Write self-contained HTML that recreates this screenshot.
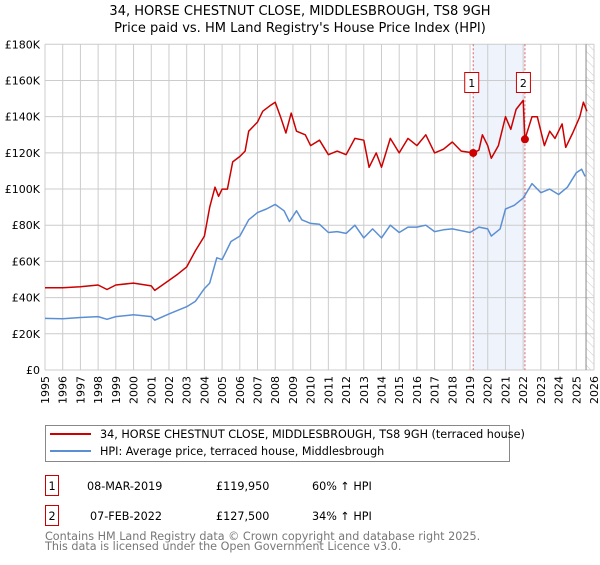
<!DOCTYPE html>
<html><head><meta charset="utf-8"><style>
body{margin:0;background:#fff;font-family:"Liberation Sans","DejaVu Sans",sans-serif;}
</style></head><body>
<svg width="600" height="560" xmlns="http://www.w3.org/2000/svg" font-family="DejaVu Sans, Liberation Sans, sans-serif">
<text x="300" y="15" text-anchor="middle" font-size="13">34, HORSE CHESTNUT CLOSE, MIDDLESBROUGH, TS8 9GH</text>
<text x="300" y="32" text-anchor="middle" font-size="13">Price paid vs. HM Land Registry's House Price Index (HPI)</text>
<defs><pattern id="hatch" width="6" height="6" patternUnits="userSpaceOnUse" patternTransform="rotate(-45)"><line x1="0" y1="0" x2="0" y2="6" stroke="#ccc" stroke-width="1"/></pattern></defs>
<g id="plot"></g>
<g id="legend">
<rect x="45.5" y="425.5" width="464" height="36" fill="#fff" stroke="#888"/>
<line x1="50" y1="434" x2="91" y2="434" stroke="#cc0000" stroke-width="2"/>
<text x="100" y="438" font-size="11.2">34, HORSE CHESTNUT CLOSE, MIDDLESBROUGH, TS8 9GH (terraced house)</text>
<line x1="50" y1="451" x2="91" y2="451" stroke="#5b8fd4" stroke-width="2"/>
<text x="100" y="455" font-size="11.2">HPI: Average price, terraced house, Middlesbrough</text>
</g>
<g font-size="11.2">
<rect x="45.5" y="475.5" width="13" height="20" fill="#fff" stroke="#cc0000"/><text x="52" y="490" text-anchor="middle">1</text>
<text x="87" y="490">08-MAR-2019</text><text x="216" y="490">£119,950</text><text x="312" y="490">60% ↑ HPI</text>
<rect x="45.5" y="505.5" width="13" height="20" fill="#fff" stroke="#cc0000"/><text x="52" y="520" text-anchor="middle">2</text>
<text x="90" y="520">07-FEB-2022</text><text x="216" y="520">£127,500</text><text x="312" y="520">34% ↑ HPI</text>
</g>
<text x="45" y="540" font-size="11.2" fill="#777">Contains HM Land Registry data © Crown copyright and database right 2025.</text>
<text x="45" y="550" font-size="11.2" fill="#777">This data is licensed under the Open Government Licence v3.0.</text>
</svg>
<script>
const hpiYears=[1995,1996,1997,1998,1998.5,1999,2000,2001,2001.2,2002,2002.5,2003,2003.5,2004,2004.3,2004.7,2005,2005.5,2006,2006.5,2007,2007.5,2008,2008.5,2008.8,2009.2,2009.5,2010,2010.5,2011,2011.5,2012,2012.5,2013,2013.5,2014,2014.5,2015,2015.5,2016,2016.5,2017,2017.5,2018,2018.5,2019,2019.5,2020,2020.2,2020.7,2021,2021.5,2022,2022.5,2023,2023.5,2024,2024.5,2025,2025.3,2025.5];
const hpiValues=[28.5,28.3,29,29.5,28,29.5,30.5,29.5,27.5,31,33,35,38,45,48,62,61,71,74,83,87,89,91.5,88,82,88,83,81,80.5,76,76.5,75.5,80,73,78,73,80,76,79,79,80,76.5,77.5,78,77,76,79,78,74,78,89,91,95,103,98,100,97,101,109,111,107];
const priceYears=[1995,1996,1997,1998,1998.5,1999,2000,2001,2001.2,2002,2002.5,2003,2003.5,2004,2004.3,2004.6,2004.8,2005,2005.3,2005.6,2006,2006.3,2006.5,2007,2007.3,2007.7,2008,2008.3,2008.6,2008.9,2009.2,2009.7,2010,2010.5,2011,2011.5,2012,2012.5,2013,2013.3,2013.7,2014,2014.5,2015,2015.5,2016,2016.5,2017,2017.5,2018,2018.5,2019.18,2019.5,2019.7,2020,2020.2,2020.6,2021,2021.3,2021.6,2022.0,2022.1,2022.5,2022.8,2023.2,2023.5,2023.8,2024.2,2024.4,2024.8,2025.2,2025.4,2025.6];
const priceValues=[45.5,45.5,46,47,44.5,47,48,46.5,44,49.5,53,57,66,74,90,101,96,100,100,115,118,121,132,137,143,146,148,140,131,142,132,130,124,127,119,121,119,128,127,112,120,112,128,120,128,124,130,120,122,126,121,120,121.5,130,124,117,124,140,133,144,149,127.5,140,140,124,132,128,136,123,131,140,148,143];
const saleYears=[2019.18,2022.1];
const saleValues=[119.95,127.5];
const saleLabels=["1","2"];
const yTicks=[0,20,40,60,80,100,120,140,160,180];
const xTicks=[1995,1996,1997,1998,1999,2000,2001,2002,2003,2004,2005,2006,2007,2008,2009,2010,2011,2012,2013,2014,2015,2016,2017,2018,2019,2020,2021,2022,2023,2024,2025,2026];
const X0=45,X1=594,Y0=370,Y1=44.3;
const xs=y=>X0+(y-1995)/(2026-1995)*(X1-X0);
const ys=v=>Y0-v/180*(Y0-Y1);
const NS="http://www.w3.org/2000/svg";
const g=document.getElementById('plot');
function mk(t,a){const e=document.createElementNS(NS,t);for(const k in a)e.setAttribute(k,a[k]);g.appendChild(e);return e;}
let e=mk('rect',{x:X0,y:Y1,width:X1-X0,height:Y0-Y1,fill:'#fff'});


e=mk('rect',{x:xs(saleYears[0]),y:Y1,width:xs(saleYears[1])-xs(saleYears[0]),height:Y0-Y1,fill:'#eef3fc'});


e=mk('rect',{x:xs(2025.55),y:Y1,width:X1-xs(2025.55),height:Y0-Y1,fill:'url(#hatch)'});


xTicks.forEach(t=>{
 e=mk('line',{x1:xs(t),x2:xs(t),y1:Y1,y2:Y0,stroke:'#ccc','stroke-width':1});
 
 
 e=mk('text',{x:0,y:0,'font-size':11,'text-anchor':'end',transform:`translate(${xs(t)+4},${Y0+6}) rotate(-90)`});
 e.textContent=t;
 
 
});
yTicks.forEach(t=>{
 e=mk('line',{x1:X0,x2:X1,y1:ys(t),y2:ys(t),stroke:'#ccc','stroke-width':1});
 
 
 e=mk('text',{x:X0-5,y:ys(t)+4,'font-size':11,'text-anchor':'end'});
 e.textContent=t===0?'£0':'£'+t+'K';
 
 
});
e=mk('line',{x1:xs(2025.55),x2:xs(2025.55),y1:Y1,y2:Y0,stroke:'#888'});


saleYears.forEach((s,i)=>{
 e=mk('line',{x1:xs(s),x2:xs(s),y1:Y1,y2:Y0,stroke:'#e06060','stroke-dasharray':'2,2'});
 
 
});
function path(xa,va,col,name){
 const d=xa.map((x,i)=>(i?'L':'M')+xs(x).toFixed(1)+','+ys(va[i]).toFixed(1)).join('');
 const p=mk('path',{d:d,fill:'none',stroke:col,'stroke-width':1.5,'stroke-linejoin':'round'});
 
 
}
path(hpiYears,hpiValues,'#5b8fd4','hpi-line');
path(priceYears,priceValues,'#cc0000','property-price-line');
saleYears.forEach((s,i)=>{
 e=mk('circle',{cx:xs(s),cy:ys(saleValues[i]),r:4,fill:'#cc0000'});
 
 
 e=mk('rect',{x:xs(s)-8.5,y:72.5,width:14,height:20,fill:'#fff',stroke:'#cc0000'});
 
 
 e=mk('text',{x:xs(s)-1.5,y:87,'font-size':11,'text-anchor':'middle'});
 e.textContent=saleLabels[i];
 
 
});
</script>
</body></html>
